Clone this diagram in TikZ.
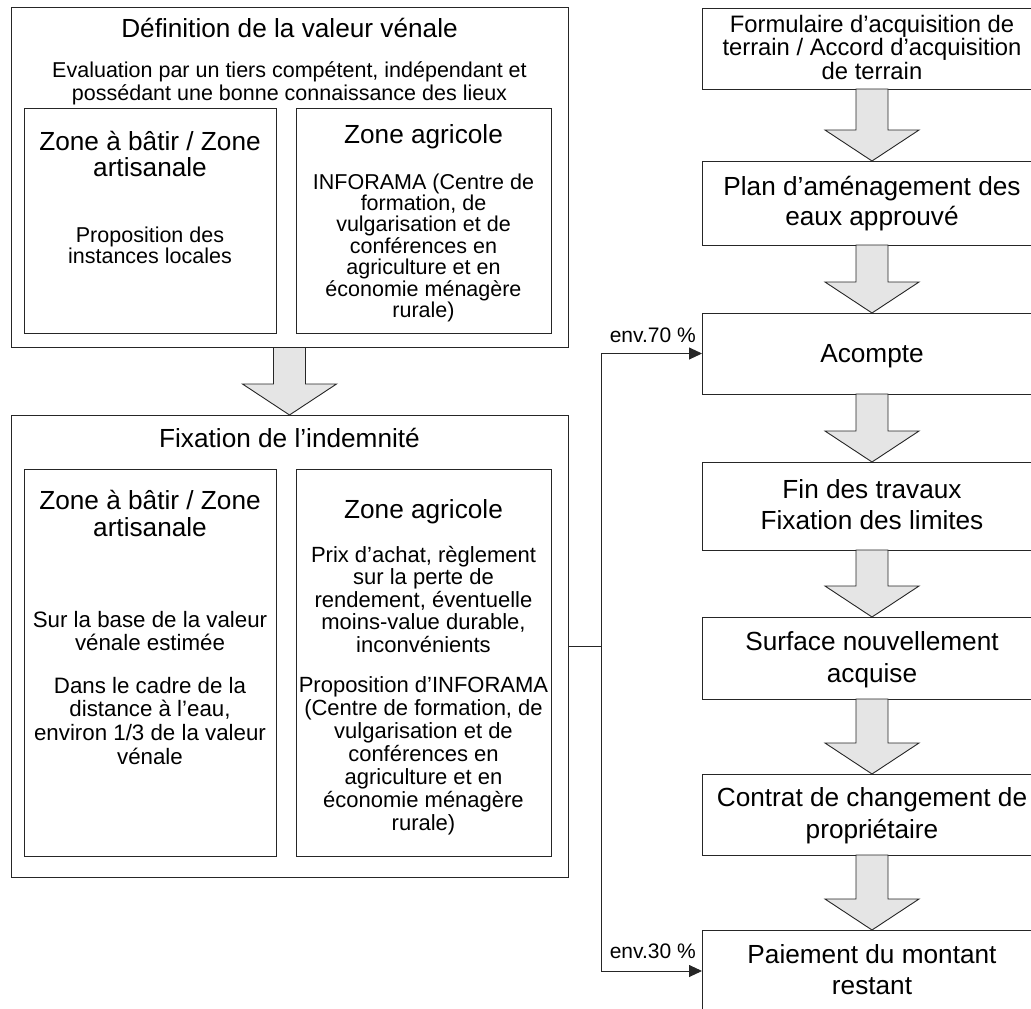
\documentclass[tikz,border=0pt]{standalone}
\usepackage{fontspec}
\setmainfont{Liberation Sans}
\usetikzlibrary{calc,arrows.meta}
\newcommand\mlines[1]{\vtop{\lineskiplimit=-1000pt\lineskip=0pt\halign{\hfil##\hfil\cr#1\crcr}}}
\newcommand\fs[2]{\fontsize{#1}{#2}\selectfont}
\newcommand\bigarrow[2]{\draw[barrow] ($(#1.south)+(-16,0)$) -- ($(#2.north)+(-16,-31)$) -- ($(#2.north)+(-47,-31)$) -- (#2.north) -- ($(#2.north)+(47,-31)$) -- ($(#2.north)+(16,-31)$) -- ($(#1.south)+(16,0)$) -- cycle;}
\begin{document}
\begin{tikzpicture}[x=1pt,y=-1pt,
  box/.style={draw=black!85,line width=1pt,anchor=north west,inner sep=0pt,outer sep=0pt},
  txt/.style={inner sep=0pt,anchor=base},
  barrow/.style={draw=black!85,line width=0.9pt,fill=gray!20,line join=miter},
  conn/.style={draw=black!85,line width=0.9pt},
  conntip/.style={-{Triangle[length=13pt,width=12pt]}}]
\useasboundingbox (0,0) rectangle (1031,1009);
\clip (0,0) rectangle (1031,1009);
% left column
\node[box,minimum width=557pt,minimum height=340pt] (def) at (11,7.5) {};
\node[box,minimum width=252pt,minimum height=225pt] (defbat) at (24,108) {};
\node[box,minimum width=255pt,minimum height=225pt] (defagr) at (296,108) {};
\node[box,minimum width=557pt,minimum height=462pt] (fix) at (11,415) {};
\node[box,minimum width=252pt,minimum height=387pt] (fixbat) at (24,469) {};
\node[box,minimum width=255pt,minimum height=387pt] (fixagr) at (296,469) {};
% right column
\node[box,minimum width=340pt,minimum height=81pt] (form) at (702,8) {};
\node[box,minimum width=340pt,minimum height=84pt] (plan) at (702,161) {};
\node[box,minimum width=340pt,minimum height=81pt] (acompte) at (702,313) {};
\node[box,minimum width=340pt,minimum height=88pt] (fin) at (702,462) {};
\node[box,minimum width=340pt,minimum height=82pt] (surf) at (702,617) {};
\node[box,minimum width=340pt,minimum height=81pt] (contrat) at (702,774) {};
\node[box,minimum width=340pt,minimum height=82pt] (paie) at (702,930) {};
% block arrows
\bigarrow{def}{fix}
\bigarrow{form}{plan}
\bigarrow{plan}{acompte}
\bigarrow{acompte}{fin}
\bigarrow{fin}{surf}
\bigarrow{surf}{contrat}
\bigarrow{contrat}{paie}
% connectors
\draw[conn] (fix.east) -- ++(33,0) coordinate (jn);
\draw[conn,conntip] (jn) |- (acompte.west);
\draw[conn,conntip] (jn) |- (paie.west);
\node[txt,anchor=base east,font=\fs{21}{21}] (l70) at (696,342) {env.70 \%};
\node[txt,anchor=base east,font=\fs{21}{21}] (l30) at (696,958) {env.30 \%};
% texts upper box
\node[txt,font=\fs{26.2}{26}] (t1) at (289.5,37) {Définition de la valeur vénale};
\node[txt,font=\fs{21.5}{23}] (t2) at (289.5,77) {\mlines{Evaluation par un tiers compétent, indépendant et\cr possédant une bonne connaissance des lieux}};
\node[txt,font=\fs{26.2}{26}] (t3) at (150,150) {\mlines{Zone à bâtir / Zone\cr artisanale}};
\node[txt,font=\fs{21.5}{21.5}] (t4) at (150,242) {\mlines{Proposition des\cr instances locales}};
\node[txt,font=\fs{26.2}{26}] (t5) at (423.5,143) {Zone agricole};
\node[txt,font=\fs{21.5}{21.4}] (t6) at (423.5,189) {\mlines{INFORAMA (Centre de\cr formation, de\cr vulgarisation et de\cr conférences en\cr agriculture et en\cr économie ménagère\cr rurale)}};
% texts lower box
\node[txt,font=\fs{26.2}{26}] (t7) at (289.5,447) {Fixation de l’indemnité};
\node[txt,font=\fs{26.2}{27}] (t8) at (150,509) {\mlines{Zone à bâtir / Zone\cr artisanale}};
\node[txt,font=\fs{22.3}{23}] (t9) at (150,627) {\mlines{Sur la base de la valeur\cr vénale estimée}};
\node[txt,font=\fs{22.3}{23.7}] (t10) at (150,693) {\mlines{Dans le cadre de la\cr distance à l’eau,\cr environ 1/3 de la valeur\cr vénale}};
\node[txt,font=\fs{26.2}{26}] (t11) at (423.5,518) {Zone agricole};
\node[txt,font=\fs{22}{22.5}] (t12) at (423.5,562) {\mlines{Prix d’achat, règlement\cr sur la perte de\cr rendement, éventuelle\cr moins-value durable,\cr inconvénients}};
\node[txt,font=\fs{22}{23}] (t13) at (423.5,692) {\mlines{Proposition d’INFORAMA\cr (Centre de formation, de\cr vulgarisation et de\cr conférences en\cr agriculture et en\cr économie ménagère\cr rurale)}};
% texts right column
\node[txt,font=\fs{23.8}{23.5}] (r1) at (872,32) {\mlines{Formulaire d’acquisition de\cr terrain / Accord d’acquisition\cr de terrain}};
\node[txt,font=\fs{26.2}{30}] (r2) at (872,195) {\mlines{Plan d’aménagement des\cr eaux approuvé}};
\node[txt,font=\fs{26.2}{30}] (r3) at (872,362) {Acompte};
\node[txt,font=\fs{26.2}{31}] (r4) at (872,498) {\mlines{Fin des travaux\cr Fixation des limites}};
\node[txt,font=\fs{26.2}{32}] (r5) at (872,650) {\mlines{Surface nouvellement\cr acquise}};
\node[txt,font=\fs{26.2}{32}] (r6) at (872,806) {\mlines{Contrat de changement de\cr propriétaire}};
\node[txt,font=\fs{26.2}{31}] (r7) at (872,963) {\mlines{Paiement du montant\cr restant}};
\end{tikzpicture}
\end{document}
